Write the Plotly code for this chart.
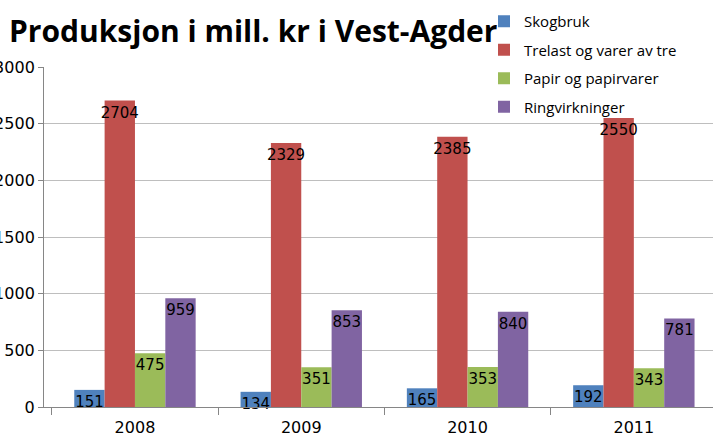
import plotly.graph_objects as go

years = ["2008", "2009", "2010", "2011"]
skogbruk = [151, 134, 165, 192]
trelast = [2704, 2329, 2385, 2550]
papir = [475, 351, 353, 343]
ringvirkninger = [959, 853, 840, 781]

series = [
    ("Skogbruk", skogbruk, "#4F81BD"),
    ("Trelast og varer av tre", trelast, "#C0504D"),
    ("Papir og papirvarer", papir, "#9BBB59"),
    ("Ringvirkninger", ringvirkninger, "#8064A2"),
]

fig = go.Figure()
for i, (name, vals, col) in enumerate(series):
    fig.add_trace(go.Bar(
        x=years, y=vals, name=name, legendgroup=str(i),
        marker=dict(color=col, line=dict(width=0)),
        text=[str(v) for v in vals], textposition="inside", textangle=0,
        insidetextanchor="end", constraintext="none",
        textfont=dict(family="DejaVu Sans", size=15, color="#000000"),
        cliponaxis=False,
    ))

fig.update_layout(
    width=713, height=434,
    margin=dict(l=44, r=0, t=67, b=27, autoexpand=False),
    paper_bgcolor="white", plot_bgcolor="white",
    barmode="group", bargap=0.27, bargroupgap=0,
    title=dict(text="<b>Produksjon i mill. kr i Vest-Agder</b>",
               xref="container", yref="container",
               x=9 / 713, xanchor="left", y=1 - 31 / 434, yanchor="middle",
               font=dict(family="Open Sans", size=30, color="#000000")),
    legend=dict(xref="container", yref="container",
                x=484 / 713, xanchor="left", y=1 - 5 / 434, yanchor="top",
                font=dict(family="Open Sans", size=15, color="#000000"),
                bgcolor="rgba(0,0,0,0)", tracegroupgap=6),
    showlegend=True,
)
fig.update_xaxes(type="category", range=[-0.547, 3.476], showgrid=False,
                 showline=True, linecolor="#868686", linewidth=1,
                 ticks="outside", tickson="boundaries", ticklen=7, tickcolor="#868686",
                 automargin=False, ticklabelstandoff=6,
                 tickfont=dict(family="DejaVu Sans", size=16, color="#000000"))
fig.update_yaxes(range=[0, 3000], dtick=500, showgrid=True, gridcolor="#BEBEBE",
                 showline=True, linecolor="#868686", linewidth=1,
                 ticks="outside", ticklen=5, tickcolor="#868686",
                 automargin=False,
                 tickfont=dict(family="DejaVu Sans", size=16, color="#000000"))

# page has a default 8px body margin; drop it so the figure sits at the corner
fig.write_html("out.html", config={"displayModeBar": False},
               post_script="document.body.style.margin='0';")
